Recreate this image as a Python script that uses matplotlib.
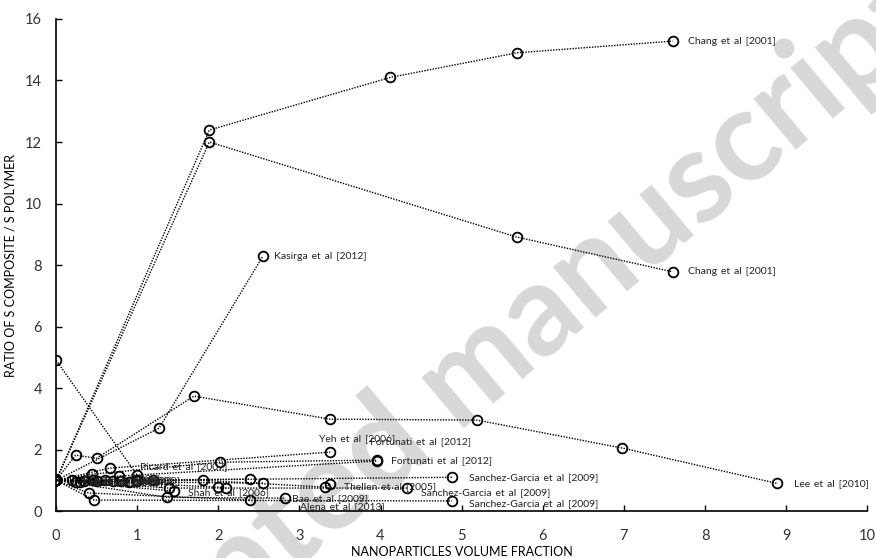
import numpy as np
import matplotlib
matplotlib.use("Agg")
import matplotlib.pyplot as plt

plt.rcParams['font.family'] = ['Lato', 'DejaVu Sans']

# data: each study starts from the neat polymer (ratio 1 at 0 vol%)
series_labels = [
    "Chang et al [2001]", "Chang et al [2001]", "Kasirga et al [2012]",
    "Lee et al [2010]", "Picard et al [2007]", "Yeh et al [2006]",
    "Fortunati et al [2012]", "Fortunati et al [2012]",
    "Sanchez-Garcia et al [2009]", "Sanchez-Garcia et al [2009]",
    "Sanchez-Garcia et al [2009]", "Thellen et al [2005]",
    "Shah et al [2006]", "Bae et al [2009]", "Alena et al [2013]",
    "Kim et al [2008]", "Lu et al [2008]", "Ray et al [2008]",
    "Cho et al [2008]", "Hu et al [2011]", "Jin et al [2008]",
]
series_x = [
    [0, 1.89, 4.12, 5.68, 7.60],
    [0, 1.89, 5.68, 7.60],
    [0, 1.27, 2.55],
    [0, 0.24, 0.50, 1.70, 3.38, 5.19, 6.98, 8.89],
    [0, 1.00],
    [0, 0.67, 3.38],
    [0, 0.44, 2.02, 3.96],
    [0, 0.78, 3.96],
    [0, 1.00, 4.88],
    [0, 1.39, 4.33],
    [0, 0.47, 4.88],
    [0, 1.81, 3.32, 3.38],
    [0, 1.45],
    [0, 1.37, 2.82],
    [0, 0.40, 2.39],
    [0, 0.25, 0.60, 2.39],
    [0, 0.35, 0.90, 2.55],
    [0, 0.50, 2.00, 2.10],
    [0, 0.20, 0.70, 1.20],
    [0, 0.30, 0.80],
    [0, 0.45, 1.00],
]
series_y = [
    [1, 12.39, 14.10, 14.90, 15.28],
    [1, 12.00, 8.91, 7.78],
    [1, 2.70, 8.29],
    [1, 1.82, 1.72, 3.74, 2.99, 2.96, 2.05, 0.90],
    [4.91, 1.17],
    [1, 1.40, 1.92],
    [1, 1.20, 1.59, 1.66],
    [1, 1.14, 1.63],
    [1, 1.00, 1.10],
    [1, 0.75, 0.75],
    [1, 0.36, 0.33],
    [1, 1.00, 0.78, 0.88],
    [1, 0.65],
    [1, 0.45, 0.42],
    [1, 0.59, 0.36],
    [1, 0.95, 1.00, 1.04],
    [1, 0.98, 0.95, 0.91],
    [1, 0.97, 0.78, 0.75],
    [1, 1.00, 0.97, 1.00],
    [1, 0.96, 0.98],
    [1, 1.00, 0.97],
]
# which point carries the label, and label offsets in points
label_idx = [-1] * 15 + [1, 1, 1, 1, 1, 1]
label_dx = [11, 11, 8, 12, 2, -8, -5, 10, 12, 10, 12, 10, 10, 5, 36, 4, 6, 5, 8, 7, 6]
label_dy = [0, 0, 0, 0, 6, 10, 13, 0, 0, -3, -2, -2, -1, 0, -5, 0, -1, 0, 1, -1, 0]

fig = plt.figure(figsize=(8.76, 5.58), dpi=100)
ax = fig.add_axes([0.064, 0.084, 0.926, 0.882])
ax.patch.set_visible(False)

# watermark
ax.text(0.525, 0.31, "Accepted manuscript", transform=fig.transFigure,
        rotation=40, fontsize=92, fontweight='bold', color='#d8d8d8',
        ha='center', va='center', rotation_mode='anchor', zorder=0)

for lab, xs, ys, li, dx, dy in zip(series_labels, series_x, series_y,
                                   label_idx, label_dx, label_dy):
    ax.plot(xs, ys, linestyle=(0, (1, 1)), color='black', lw=1.0,
            marker='o', markersize=7, markerfacecolor='none',
            markeredgecolor='black', markeredgewidth=1.3, zorder=3)
    ax.annotate(lab.replace(" ", "\u2009 "), (xs[li], ys[li]), xytext=(dx, dy),
                textcoords='offset points', fontsize=7.5, va='center',
                ha='left', color='#222222', zorder=4)

ax.set_xlim(0, 10)
ax.set_ylim(0, 16)
ax.set_xticks(np.arange(0, 11, 1))
ax.set_yticks(np.arange(0, 17, 2))
ax.tick_params(direction='in', length=4, width=1, labelsize=10.5,
               labelcolor='#333333')
ax.tick_params(axis='y', pad=10)
ax.tick_params(axis='x', pad=13)
for s in ['top', 'right']:
    ax.spines[s].set_visible(False)
for s in ['left', 'bottom']:
    ax.spines[s].set_linewidth(1.2)

ax.set_xlabel("NANOPARTICLES VOLUME FRACTION", fontsize=9, labelpad=2)
ax.set_ylabel("RATIO OF S COMPOSITE / S POLYMER", fontsize=9, labelpad=6)

fig.savefig("out.png", dpi=100)
